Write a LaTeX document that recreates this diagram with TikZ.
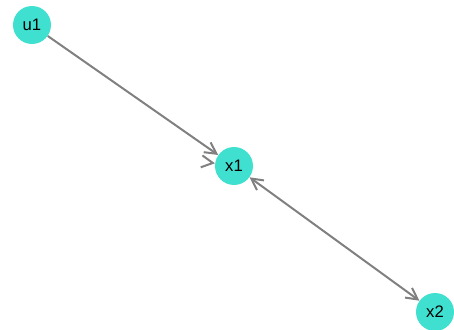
\documentclass[tikz,border=0pt]{standalone}
\usepackage{fontspec}
\setmainfont{Liberation Sans}
\usetikzlibrary{arrows.meta}
\definecolor{turq}{HTML}{40E0D0}
\definecolor{edgegray}{HTML}{808080}

\begin{document}
\begin{tikzpicture}[
  x=0.75pt, y=0.75pt,
  every node/.style={inner sep=1pt},
  var/.style={circle, fill=turq, minimum size=28.5pt, inner sep=0pt,
    font=\fontsize{12.5}{14}\selectfont},
  arrow/.style={draw=edgegray, line width=1.5pt,
    -{Straight Barb[length=8.5pt, width=9pt]}},
  darrow/.style={draw=edgegray, line width=1.5pt,
    {Straight Barb[length=8.5pt, width=9pt]}-{Straight Barb[length=8.5pt, width=9pt]}}]

  \useasboundingbox (0,0) rectangle (454,329);

  \node[var] (u1) at (32, 304) {u1};
  \node[var] (x1) at (234, 163) {x1};
  \node[var] (x2) at (435, 17) {x2};
  \coordinate (x1loop) at (213, 166);

  \draw[arrow]  (u1) -- (x1);
  \draw[darrow] (x1) -- (x2);
  \draw[arrow]  (x1loop) -- (x1);

\end{tikzpicture}
\end{document}
